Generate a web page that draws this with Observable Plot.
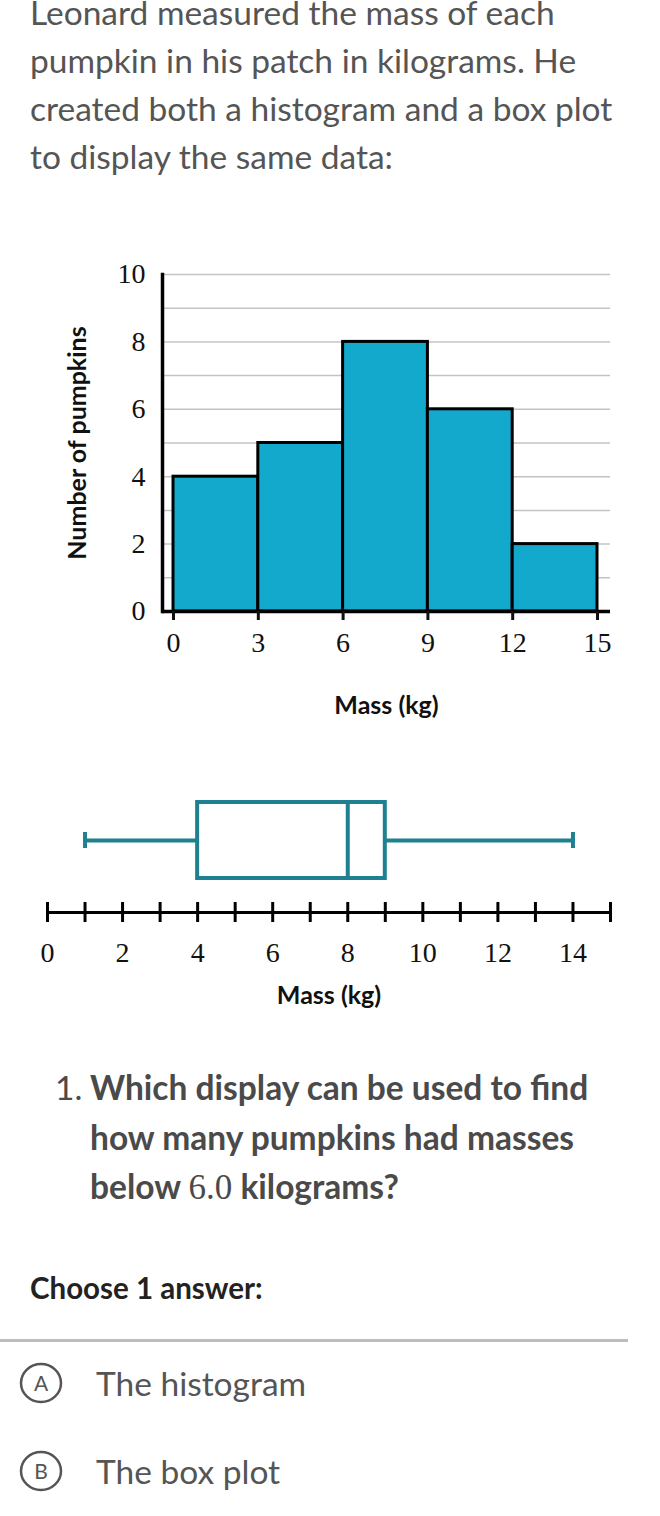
<!DOCTYPE html>
<html>
<head>
<meta charset="utf-8">
<script src="https://cdn.jsdelivr.net/npm/d3@7"></script>
<script src="https://cdn.jsdelivr.net/npm/@observablehq/plot@0.6"></script>
<style>
  html, body { margin: 0; padding: 0; background: #fff; }
  body { width: 660px; height: 1516px; position: relative; overflow: hidden; font-family: Lato, "Noto Sans", sans-serif; }
  .abs { position: absolute; }
  #intro { left: 30px; top: -12px; font-size: 33.5px; line-height: 48px; color: #555; white-space: nowrap; }
  #hist { left: 0; top: 250px; }
  #box { left: 0; top: 780px; }
  #qnum { left: 55px; top: 1063px; font-size: 33.5px; line-height: 49.5px; color: #4a4a4a; }
  #question { left: 90px; top: 1063px; font-size: 33.5px; line-height: 49.5px; color: #4a4a4a; font-weight: bold; white-space: nowrap; }
  .math { font-family: "Liberation Serif", serif; font-weight: normal; font-size: 35px; }
  #choose { left: 30px; top: 1270px; font-size: 29.5px; line-height: 36px; color: #222; font-weight: bold; white-space: nowrap; }
  #divider { left: 0; top: 1339px; width: 628px; height: 3px; background: #bdbdbd; }
  .opt { font-size: 33.5px; line-height: 40px; color: #555; white-space: nowrap; }
</style>
</head>
<body>
<div id="intro" class="abs">Leonard measured the mass of each<br>pumpkin in his patch in kilograms. He<br>created both a histogram and a box plot<br>to display the same data:</div>
<div id="hist" class="abs"></div>
<div id="box" class="abs"></div>
<div id="qnum" class="abs">1.</div>
<div id="question" class="abs">Which display can be used to find<br>how many pumpkins had masses<br>below <span class="math">6.0</span> kilograms?</div>
<div id="choose" class="abs">Choose 1 answer:</div>
<div id="divider" class="abs"></div>
<svg class="abs" style="left:18px; top:1361px;" width="46" height="44"><ellipse cx="23" cy="22" rx="20" ry="19" fill="none" stroke="#555" stroke-width="2.5"/><text x="23" y="22" dy="0.36em" text-anchor="middle" font-family="Lato, sans-serif" font-size="21" fill="#555">A</text></svg>
<div class="abs opt" style="left:96px; top:1363px;">The histogram</div>
<svg class="abs" style="left:18px; top:1449px;" width="46" height="44"><ellipse cx="23" cy="22" rx="20" ry="19" fill="none" stroke="#555" stroke-width="2.5"/><text x="23" y="22" dy="0.36em" text-anchor="middle" font-family="Lato, sans-serif" font-size="21" fill="#555">B</text></svg>
<div class="abs opt" style="left:96px; top:1451px;">The box plot</div>
<script>
// ---- Histogram data ----
const binStart = [0, 3, 6, 9, 12];
const binEnd = [3, 6, 9, 12, 15];
const counts = [4, 5, 8, 6, 2];
const histYTicks = [0, 2, 4, 6, 8, 10];
const histGridLines = [1, 2, 3, 4, 5, 6, 7, 8, 9, 10];
const histXTicks = [0, 3, 6, 9, 12, 15];

// ---- Box plot data (five-number summary) ----
const boxMin = 1;
const boxQ1 = 4;
const boxMedian = 8;
const boxQ3 = 9;
const boxMax = 14;
const lineTicks = [0, 1, 2, 3, 4, 5, 6, 7, 8, 9, 10, 11, 12, 13, 14, 15];
const lineLabels = [0, 2, 4, 6, 8, 10, 12, 14];

const serif = "'Liberation Serif', 'DejaVu Serif', serif";
const sans = "Lato, 'Noto Sans', sans-serif";
const barFill = "#12a9cc";
const teal = "#1e8090";

const bins = binStart.map((s, i) => ({x1: s, x2: binEnd[i], count: counts[i]}));

const hist = Plot.plot({
  width: 660,
  height: 480,
  marginLeft: 162,
  marginRight: 50,
  marginTop: 24,
  marginBottom: 119,
  x: {domain: [-0.39, 15.46]},
  y: {domain: [0, 10]},
  style: {background: "transparent", overflow: "visible"},
  marks: [
    Plot.ruleY(histGridLines, {stroke: "#c4c4c4", strokeWidth: 1.5}),
    Plot.rectY(bins, {x1: "x1", x2: "x2", y: "count", fill: barFill, stroke: "#000", strokeWidth: 3}),
    Plot.ruleY([0], {stroke: "#000", strokeWidth: 3.5}),
    Plot.frame({anchor: "left", stroke: "#000", strokeWidth: 3.5}),
    Plot.axisY({ticks: histYTicks, tickSize: 0, tickPadding: 17, fontSize: 28, fontFamily: serif, color: "#111", label: null}),
    Plot.axisY({ticks: [], tickSize: 0, label: "Number of pumpkins", labelAnchor: "center", labelArrow: "none", labelOffset: 94, fontSize: 25, fontWeight: "bold", fontFamily: sans, color: "#111"}),
    Plot.axisX({ticks: histXTicks, tickSize: 9, strokeWidth: 3, tickPadding: 12, fontSize: 28, fontFamily: serif, color: "#111", label: null}),
    Plot.text(["Mass (kg)"], {text: d => d, frameAnchor: "bottom", dy: 94, fontSize: 25, fontWeight: "bold", fontFamily: sans, fill: "#111", lineAnchor: "middle"})
  ]
});
document.getElementById("hist").append(hist);

const stat = [{min: boxMin, q1: boxQ1, median: boxMedian, q3: boxQ3, max: boxMax, row: "box"}];

const box = Plot.plot({
  width: 660,
  height: 240,
  marginLeft: 47,
  marginRight: 50,
  marginTop: 22,
  marginBottom: 142,
  x: {domain: [0, 15]},
  y: {type: "band", domain: ["box"], padding: 0, axis: null},
  style: {background: "transparent", overflow: "visible"},
  marks: [
    Plot.ruleY(stat, {y: "row", x1: "min", x2: "q1", stroke: teal, strokeWidth: 4}),
    Plot.ruleY(stat, {y: "row", x1: "q3", x2: "max", stroke: teal, strokeWidth: 4}),
    Plot.tickX(stat, {x: "min", y: "row", insetTop: 30, insetBottom: 30, stroke: teal, strokeWidth: 4}),
    Plot.tickX(stat, {x: "max", y: "row", insetTop: 30, insetBottom: 30, stroke: teal, strokeWidth: 4}),
    Plot.barX(stat, {x1: "q1", x2: "q3", y: "row", fill: "#fff", stroke: teal, strokeWidth: 4}),
    Plot.tickX(stat, {x: "median", y: "row", stroke: teal, strokeWidth: 4}),
    Plot.frame({anchor: "bottom", dy: 34, stroke: "#000", strokeWidth: 3}),
    Plot.axisX({ticks: lineTicks, tickSize: 20, dy: 24, tickFormat: () => "", strokeWidth: 3, stroke: "#000", label: null}),
    Plot.axisX({ticks: lineLabels, tickSize: 0, tickPadding: 64, fontSize: 28, fontFamily: serif, color: "#111", label: null}),
    Plot.text(["Mass (kg)"], {text: d => d, frameAnchor: "bottom", dy: 117, fontSize: 25, fontWeight: "bold", fontFamily: sans, fill: "#111", lineAnchor: "middle"})
  ]
});
document.getElementById("box").append(box);
</script>
</body>
</html>
